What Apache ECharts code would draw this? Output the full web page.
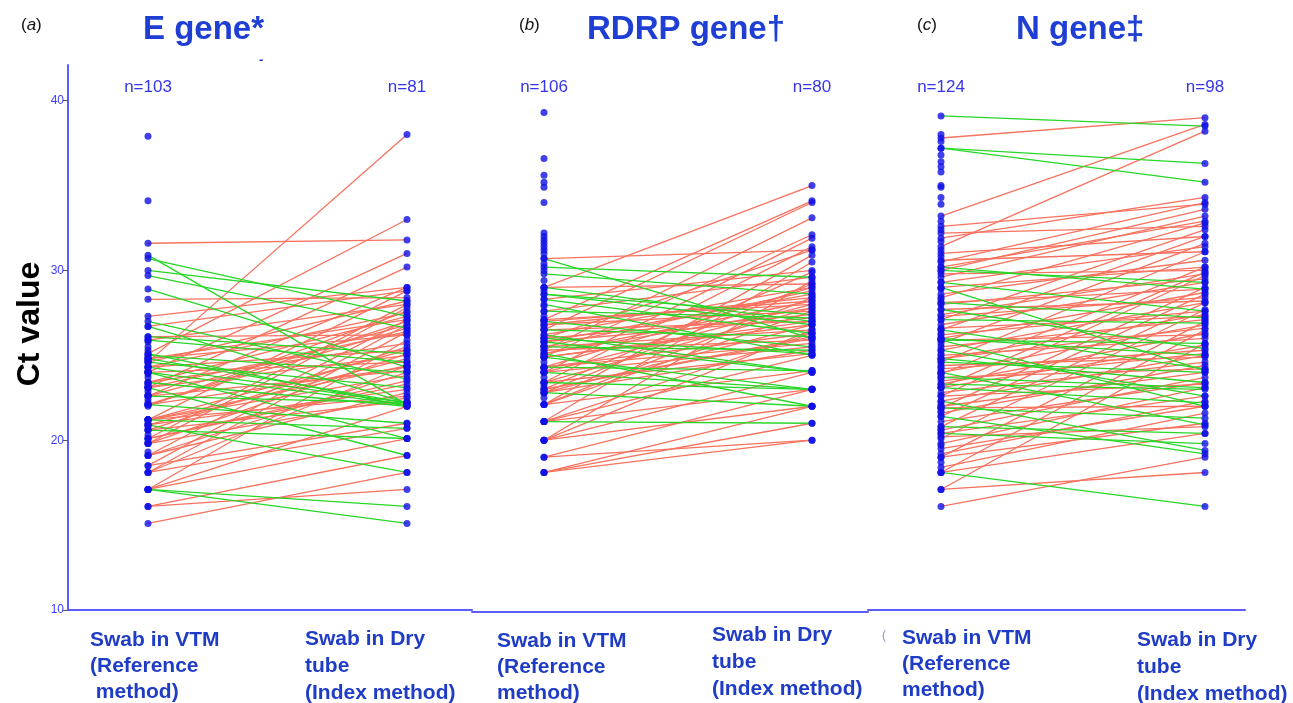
<!DOCTYPE html>
<html>
<head>
<meta charset="utf-8">
<script src="https://cdn.jsdelivr.net/npm/echarts@6/dist/echarts.min.js"></script>
<style>
  html, body { margin: 0; padding: 0; background: #fff; }
  #main { width: 1293px; height: 703px; }
</style>
</head>
<body>
<div id="main"></div>
<script>
// panel text
const panelLetters = ['a', 'b', 'c'];
const panelTitles = ['E gene*', 'RDRP gene\u2020', 'N gene\u2021'];
const leftCounts = ['n=103', 'n=106', 'n=124'];
const rightCounts = ['n=81', 'n=80', 'n=98'];
const leftCategories = ['Swab in VTM\n(Reference\n method)', 'Swab in VTM\n(Reference\nmethod)', 'Swab in VTM\n(Reference\nmethod)'];
const rightCategories = ['Swab in Dry\ntube\n(Index method)', 'Swab in Dry\ntube\n(Index method)', 'Swab in Dry\ntube\n(Index method)'];
const yTicks = [10, 20, 30, 40];

// E gene: paired samples [VTM, dry], then VTM-only samples
const ePairs = [
  [31.6, 31.8], [24.6, 38.0], [25.1, 33.0], [24.0, 31.0], [23.1, 30.2], [22.6, 29.0], [21.2, 28.8],
  [28.3, 28.4], [20.1, 28.0], [19.8, 27.8], [22.0, 27.6], [24.3, 27.5], [19.1, 27.1], [18.5, 26.8],
  [18.1, 26.4], [17.1, 25.9], [22.1, 27.0], [24.8, 26.2], [20.6, 25.5], [21.2, 25.3], [26.1, 26.2],
  [23.4, 25.7], [20.9, 24.8], [18.1, 24.4], [16.1, 17.1], [15.1, 18.1], [17.1, 20.1], [19.1, 22.8],
  [20.1, 23.3], [22.6, 24.1], [21.2, 23.8], [19.8, 22.5], [18.5, 21.0], [20.6, 22.3], [23.1, 25.0],
  [24.6, 28.2], [25.9, 28.0], [22.1, 26.6], [19.1, 24.0], [20.1, 23.5], [24.0, 24.6], [23.4, 27.3],
  [21.2, 22.6], [18.1, 20.7], [16.1, 19.1], [20.9, 23.0], [22.6, 26.8], [24.3, 25.3], [17.1, 22.0],
  [19.8, 25.1], [26.7, 28.8], [27.3, 29.0], [22.1, 24.3], [23.1, 26.4], [24.8, 27.1], [21.2, 24.4],
  [30.9, 22.1], [30.7, 27.3], [30.0, 28.2], [29.7, 26.6], [28.9, 24.3], [26.7, 22.2], [25.1, 22.0],
  [25.0, 24.0], [24.8, 22.2], [24.6, 23.1], [24.3, 22.2], [24.0, 22.1], [24.0, 20.1], [23.4, 22.0],
  [23.1, 19.1], [22.6, 22.2], [22.1, 21.0], [21.2, 20.7], [20.9, 18.1], [20.6, 20.1], [17.1, 16.1],
  [17.1, 15.1], [26.1, 25.1], [25.9, 24.6], [27.0, 23.6]
];
const eVtmOnly = [37.9, 34.1, 25.8, 25.5, 25.3, 24.9, 24.7, 24.4, 24.1, 23.9, 23.7, 23.3, 23.2,
  22.9, 22.7, 22.4, 22.2, 21.0, 20.8, 20.3, 19.9, 19.3];

// RDRP gene
const rdrpPairs = [
  [30.7, 31.2], [29.0, 35.0], [27.1, 34.1], [26.5, 34.0], [25.3, 33.1], [24.9, 32.1], [24.0, 31.9],
  [23.4, 31.4], [26.0, 31.2], [22.1, 30.9], [21.1, 30.5], [23.0, 29.9], [20.0, 29.4], [22.8, 29.2],
  [24.3, 29.0], [25.5, 28.8], [26.8, 28.4], [25.1, 28.2], [24.0, 28.0], [23.4, 27.8], [22.1, 27.6],
  [26.0, 27.4], [25.8, 27.2], [24.9, 27.0], [22.8, 26.8], [20.0, 26.5], [21.1, 26.3], [23.0, 26.1],
  [25.3, 25.9], [24.3, 25.7], [26.5, 27.0], [27.1, 28.0], [27.6, 29.6], [28.3, 30.0], [29.0, 29.2],
  [25.5, 26.5], [24.0, 25.5], [23.4, 25.1], [22.1, 24.1], [20.0, 24.0], [19.0, 20.0], [18.1, 20.0],
  [18.1, 21.0], [18.1, 22.0], [19.0, 23.0], [20.0, 22.0], [21.1, 25.0], [22.8, 25.3], [23.0, 26.0],
  [24.9, 26.8], [25.8, 28.6], [26.2, 29.0], [27.0, 28.2], [26.8, 27.6], [24.3, 26.3], [25.1, 27.8],
  [22.1, 28.4], [21.1, 23.0],
  [30.7, 26.0], [30.2, 29.6], [29.8, 28.6], [29.0, 27.0], [28.6, 27.4], [28.3, 26.3], [28.0, 25.0],
  [27.6, 27.2], [27.0, 25.5], [26.5, 26.1], [26.0, 25.1], [25.8, 24.0], [25.5, 25.3], [25.1, 22.0],
  [24.9, 23.0], [24.3, 24.1], [24.0, 23.0], [23.4, 23.0], [22.8, 22.0], [21.1, 21.0], [26.2, 24.0],
  [28.6, 26.8]
];
const rdrpVtmOnly = [39.3, 36.6, 35.6, 35.2, 34.9, 34.0, 32.2, 32.0, 31.8, 31.6, 31.4, 31.2, 31.0,
  30.4, 30.0, 29.4, 28.8, 27.9, 27.3, 26.7, 25.6, 24.6, 24.2, 23.7, 23.2, 22.5];

// N gene
const nPairs = [
  [37.8, 39.0], [33.2, 38.6], [31.4, 38.2], [31.9, 34.3], [30.5, 34.0], [30.0, 33.6], [29.6, 33.2],
  [28.4, 32.8], [27.1, 32.4], [26.5, 32.0], [25.7, 31.6], [24.6, 31.1], [23.9, 30.2], [23.1, 29.9],
  [22.6, 29.7], [21.9, 29.0], [21.4, 28.6], [20.8, 28.1], [20.1, 27.7], [19.0, 27.0], [18.1, 26.5],
  [17.1, 25.7], [16.1, 19.0], [17.1, 18.1], [18.1, 20.4], [19.0, 21.0], [19.5, 22.0], [20.4, 22.6],
  [21.1, 23.4], [22.0, 24.0], [22.8, 24.6], [23.5, 25.1], [24.2, 25.3], [25.0, 26.0], [25.5, 27.1],
  [26.2, 27.6], [27.3, 28.4], [28.0, 29.5], [29.8, 30.0], [30.6, 31.1], [32.6, 33.9], [32.2, 32.6],
  [31.0, 32.0], [29.0, 30.2], [28.1, 28.9], [26.8, 29.3], [25.3, 28.1], [24.8, 27.4], [24.0, 26.8],
  [23.3, 26.3], [22.3, 25.0], [21.6, 24.4], [20.6, 23.7], [19.8, 23.1], [19.2, 22.3], [18.4, 21.6],
  [20.2, 20.8], [21.9, 22.0], [23.7, 24.2], [24.4, 24.9], [25.9, 26.2], [26.6, 27.3], [27.7, 28.2],
  [30.2, 32.9], [29.3, 31.4], [28.6, 30.6], [27.4, 29.8], [26.0, 28.7], [24.8, 26.6], [23.1, 25.6],
  [22.6, 23.3],
  [39.1, 38.5], [37.2, 36.3], [37.2, 35.2], [30.2, 28.9], [29.3, 27.6], [29.0, 24.1], [27.7, 25.4],
  [26.0, 25.0], [26.5, 24.2], [25.9, 25.7], [25.3, 22.6], [24.6, 24.0], [24.0, 20.9], [23.7, 23.1],
  [23.3, 23.0], [22.3, 19.4], [21.9, 21.3], [21.4, 19.2], [20.8, 20.4], [25.9, 22.0], [18.1, 16.1],
  [28.1, 27.2], [24.8, 23.4], [23.1, 22.2], [30.0, 29.3], [20.4, 19.8], [27.1, 26.9]
];
const nVtmOnly = [38.0, 37.6, 36.8, 36.4, 36.1, 35.8, 35.0, 34.9, 34.3, 33.9, 32.9, 32.4, 31.7,
  31.2, 30.8, 28.9, 28.3, 26.3, 25.1, 24.3, 23.9, 22.1, 21.7, 20.6, 19.7, 18.7];

const allPairs = [ePairs, rdrpPairs, nPairs];
const allVtmOnly = [eVtmOnly, rdrpVtmOnly, nVtmOnly];

// page layout (pixels)
const panels = [
  { left: 68, width: 404, x1: 148, x2: 407, letterX: 21, titleX: 143, catL: [90, 627], catR: [305, 626], offset: 0 },
  { left: 472, width: 396, x1: 544, x2: 812, letterX: 519, titleX: 587, catL: [497, 628], catR: [712, 622], offset: 2 },
  { left: 868, width: 377, x1: 941, x2: 1205, letterX: 917, titleX: 1016, catL: [902, 625], catR: [1137, 627], offset: 0 }
];
const TOP = 65, HEIGHT = 545, YMAX = 42.1;
const RED = '#f7725f', GREEN = '#28d628', DOT = '#1010e6', AXIS = '#5b5bff';
const TITLE_BLUE = '#1f3ed4', LABEL_BLUE = '#1f3cc6', COUNT_BLUE = '#3535ea';
const FONT = '"Liberation Sans", Arial, sans-serif';

const chart = echarts.init(document.getElementById('main'));

const grid = [], xAxis = [], yAxis = [], series = [], graphic = [];

panels.forEach((p, i) => {
  const unit = p.x2 - p.x1;
  grid.push({ left: p.left, top: TOP, width: p.width, height: HEIGHT });
  xAxis.push({
    type: 'value', gridIndex: i,
    min: 1 - (p.x1 - p.left) / unit,
    max: 2 + (p.left + p.width - p.x2) / unit,
    offset: p.offset,
    axisLine: { show: true, onZero: false, lineStyle: { color: AXIS, width: 2 } },
    axisTick: { show: false }, axisLabel: { show: false }, splitLine: { show: false }
  });
  yAxis.push({
    type: 'value', gridIndex: i, min: 10, max: YMAX, interval: 10,
    show: i === 0,
    axisLine: { show: true, lineStyle: { color: AXIS, width: 2 } },
    axisTick: { show: true, length: 5, customValues: yTicks, lineStyle: { color: '#555', width: 1 } },
    axisLabel: { customValues: yTicks, color: '#3b3bff', fontSize: 12, fontFamily: FONT, margin: 4 },
    splitLine: { show: false }
  });

  const pairs = allPairs[i];
  series.push({
    type: 'lines', coordinateSystem: 'cartesian2d', xAxisIndex: i, yAxisIndex: i,
    silent: true, z: 2,
    lineStyle: { width: 1.3, opacity: 1 },
    data: pairs.map(d => ({
      coords: [[1, d[0]], [2, d[1]]],
      lineStyle: { color: d[1] >= d[0] ? RED : GREEN }
    }))
  });
  const leftVals = pairs.map(d => d[0]).concat(allVtmOnly[i]);
  const rightVals = pairs.map(d => d[1]);
  series.push({
    type: 'scatter', xAxisIndex: i, yAxisIndex: i, silent: true, z: 3,
    symbol: 'circle', symbolSize: 7,
    itemStyle: { color: DOT },
    data: leftVals.map(v => [1, v]).concat(rightVals.map(v => [2, v]))
  });

  // texts
  graphic.push({
    type: 'text', left: p.letterX, top: 17,
    style: { text: '({i|' + panelLetters[i] + '})', font: '17px ' + FONT, fill: '#111',
      rich: { i: { fontStyle: 'italic', fontSize: 17, fontFamily: FONT, fill: '#111' } } }
  });
  graphic.push({
    type: 'text', left: p.titleX, top: 13,
    style: { text: panelTitles[i], font: 'bold 33px ' + FONT, fill: TITLE_BLUE }
  });
  graphic.push({
    type: 'text', x: p.x1, y: 87,
    style: { text: leftCounts[i], font: '17px ' + FONT, fill: COUNT_BLUE, align: 'center', verticalAlign: 'middle' }
  });
  graphic.push({
    type: 'text', x: p.x2, y: 87,
    style: { text: rightCounts[i], font: '17px ' + FONT, fill: COUNT_BLUE, align: 'center', verticalAlign: 'middle' }
  });
  graphic.push({
    type: 'text', x: p.catL[0], y: p.catL[1],
    style: { text: leftCategories[i], font: 'bold 21px ' + FONT, fill: LABEL_BLUE, lineHeight: 26, align: 'left', verticalAlign: 'top' }
  });
  graphic.push({
    type: 'text', x: p.catR[0], y: p.catR[1],
    style: { text: rightCategories[i], font: 'bold 21px ' + FONT, fill: LABEL_BLUE, lineHeight: 27, align: 'left', verticalAlign: 'top' }
  });
});

graphic.push({
  type: 'text', x: 30, y: 324, rotation: Math.PI / 2,
  style: { text: 'Ct value', font: 'bold 32px ' + FONT, fill: '#000', align: 'center', verticalAlign: 'middle' }
});
graphic.push({ type: 'text', x: 259, y: 54, style: { text: '-', font: 'bold 13px ' + FONT, fill: TITLE_BLUE } });
graphic.push({ type: 'text', x: 882, y: 630, style: { text: '(', font: '12px ' + FONT, fill: '#8899cc' } });

chart.setOption({
  animation: false,
  backgroundColor: '#fff',
  grid, xAxis, yAxis, series, graphic
});

window.addEventListener('resize', () => chart.resize());
</script>
</body>
</html>
